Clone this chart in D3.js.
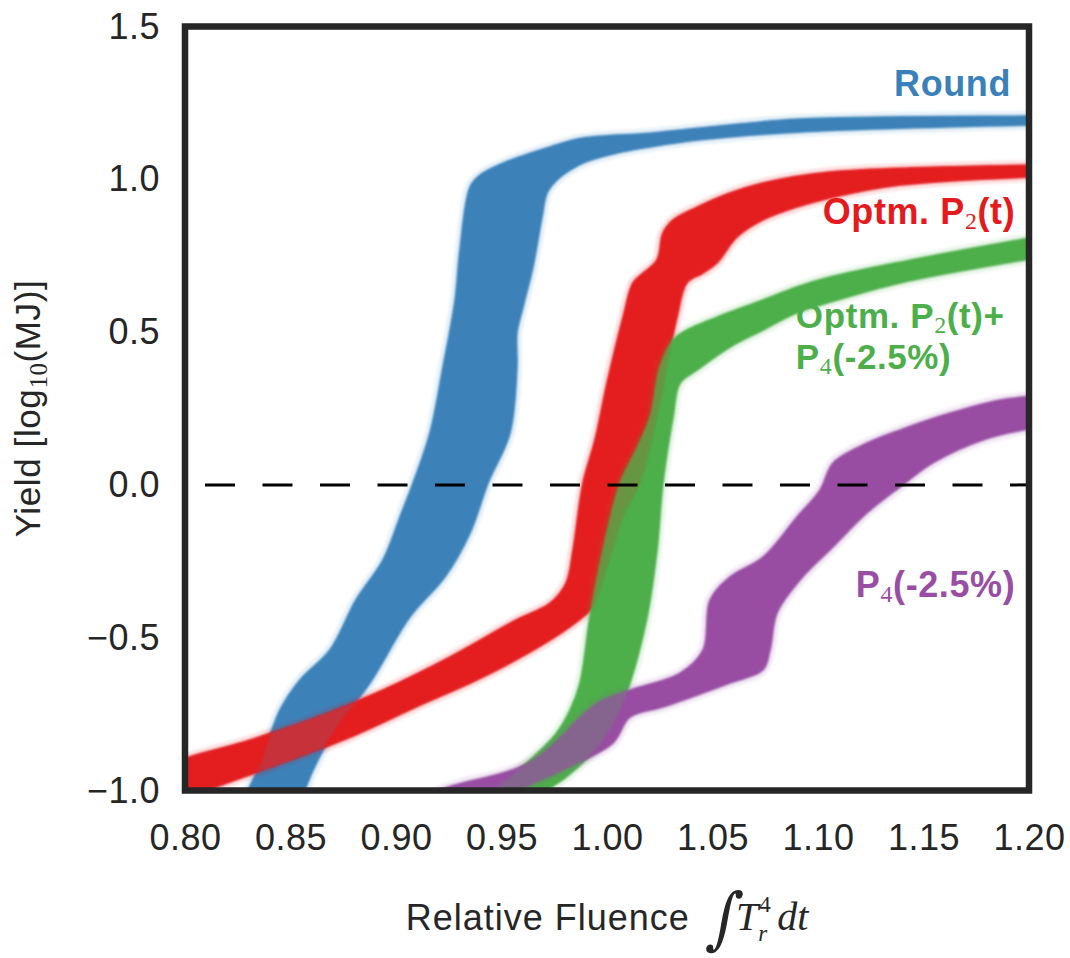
<!DOCTYPE html>
<html>
<head>
<meta charset="utf-8">
<script src="https://cdn.jsdelivr.net/npm/d3@7"></script>
<style>
  body { margin: 0; background: #fff; }
  svg { display: block; }
</style>
</head>
<body>
<svg id="chart" width="1070" height="958"></svg>
<script>
// ---- axis ticks ----
const xTicks = [0.80, 0.85, 0.90, 0.95, 1.00, 1.05, 1.10, 1.15, 1.20];
const yTicks = [-1.0, -0.5, 0.0, 0.5, 1.0, 1.5];

// ---- ensemble envelopes: [relative fluence, log10 yield] ----
// "upper" runs along the upper/left edge of each bundle of runs,
// "lower" returns along the lower/right edge.
const roundUpper = [
  [0.8284, -1.064], [0.8365, -0.900], [0.8450, -0.737], [0.8545, -0.638],
  [0.8687, -0.540], [0.8810, -0.377], [0.8938, -0.246], [0.9019, -0.105],
  [0.9081, 0.006], [0.9161, 0.170], [0.9223, 0.386], [0.9280, 0.605],
  [0.9303, 0.769], [0.9351, 0.975], [0.9398, 1.014], [0.9507, 1.053],
  [0.9730, 1.106], [0.9886, 1.135], [1.0204, 1.151], [1.0441, 1.168],
  [1.0915, 1.197], [1.2028, 1.207], [1.2150, 1.208]
];
const roundLower = [
  [1.2150, 1.179], [1.2028, 1.178], [1.0915, 1.155], [1.0441, 1.129],
  [1.0204, 1.106], [1.0047, 1.086], [0.9886, 1.053], [0.9763, 0.998],
  [0.9716, 0.955], [0.9692, 0.877], [0.9649, 0.713], [0.9602, 0.582],
  [0.9573, 0.497], [0.9573, 0.386], [0.9540, 0.170], [0.9436, 0.006],
  [0.9351, -0.157], [0.9232, -0.301], [0.9066, -0.432], [0.8877, -0.648],
  [0.8701, -0.812], [0.8573, -0.989], [0.8545, -1.064]
];

const p2Upper = [
  [0.7900, -0.937], [0.8308, -0.835], [0.8621, -0.760], [0.8938, -0.671],
  [0.9256, -0.563], [0.9569, -0.442], [0.9730, -0.387], [0.9806, -0.321],
  [0.9839, -0.213], [0.9886, 0.006], [0.9943, 0.147], [1.0000, 0.333],
  [1.0076, 0.549], [1.0123, 0.661], [1.0171, 0.693], [1.0237, 0.736],
  [1.0265, 0.824], [1.0313, 0.867], [1.0427, 0.909], [1.0583, 0.955],
  [1.0739, 0.988], [1.1057, 1.024], [1.2028, 1.047], [1.2150, 1.049]
];
const p2Lower = [
  [1.2150, 1.010], [1.2028, 1.008], [1.1389, 0.981], [1.1057, 0.939],
  [1.0900, 0.909], [1.0739, 0.867], [1.0616, 0.811], [1.0521, 0.726],
  [1.0455, 0.693], [1.0379, 0.661], [1.0332, 0.549], [1.0299, 0.441],
  [1.0237, 0.222], [1.0156, 0.006], [1.0076, -0.105], [1.0000, -0.269],
  [0.9934, -0.400], [0.9886, -0.432], [0.9730, -0.508], [0.9412, -0.629],
  [0.9095, -0.727], [0.8782, -0.826], [0.8464, -0.910], [0.8147, -0.989],
  [0.7880, -1.060]
];

const p2p4Upper = [
  [0.9398, -1.064], [0.9469, -0.999], [0.9635, -0.900], [0.9754, -0.818],
  [0.9825, -0.737], [0.9872, -0.648], [0.9919, -0.432], [0.9981, -0.213],
  [1.0062, 0.006], [1.0137, 0.114], [1.0204, 0.222], [1.0251, 0.386],
  [1.0313, 0.474], [1.0379, 0.507], [1.0521, 0.549], [1.0739, 0.605],
  [1.0900, 0.648], [1.1057, 0.680], [1.1389, 0.729], [1.2028, 0.811],
  [1.2150, 0.825]
];
const p2p4Lower = [
  [1.2150, 0.755], [1.2028, 0.742], [1.1389, 0.661], [1.1057, 0.598],
  [1.0900, 0.563], [1.0739, 0.507], [1.0583, 0.451], [1.0427, 0.376],
  [1.0346, 0.333], [1.0313, 0.222], [1.0265, 0.006], [1.0237, -0.213],
  [1.0190, -0.432], [1.0109, -0.648], [1.0038, -0.769], [0.9943, -0.867],
  [0.9801, -0.959], [0.9682, -1.015], [0.9635, -1.064]
];

const p4Upper = [
  [0.9114, -1.047], [0.9209, -0.999], [0.9635, -0.907], [0.9953, -0.714],
  [1.0109, -0.671], [1.0346, -0.616], [1.0455, -0.540], [1.0488, -0.377],
  [1.0583, -0.301], [1.0739, -0.236], [1.0900, -0.105], [1.1009, -0.017],
  [1.1071, 0.072], [1.1232, 0.137], [1.1389, 0.180], [1.1626, 0.235],
  [1.1863, 0.278], [1.2028, 0.291], [1.2150, 0.295]
];
const p4Lower = [
  [1.2150, 0.195], [1.2028, 0.186], [1.1782, 0.147], [1.1545, 0.072],
  [1.1389, -0.007], [1.1232, -0.092], [1.1071, -0.203], [1.0915, -0.311],
  [1.0806, -0.419], [1.0773, -0.540], [1.0739, -0.606], [1.0583, -0.648],
  [1.0265, -0.727], [1.0109, -0.760], [1.0028, -0.845], [0.9791, -0.933],
  [0.9588, -0.999], [0.9493, -1.047]
];

const seriesColors = ["#3a81ba", "#e41a1c", "#4daf4a", "#984ea3"];
const bands = [
  { upper: roundUpper, lower: roundLower, color: seriesColors[0] },
  { upper: p2Upper, lower: p2Lower, color: seriesColors[1] },
  { upper: p2p4Upper, lower: p2p4Lower, color: seriesColors[2] },
  { upper: p4Upper, lower: p4Lower, color: seriesColors[3] }
];

// ---- layout ----
const plotLeft = 185, plotRight = 1029, plotTop = 26.5, plotBottom = 790.5;
const sans = "'Liberation Sans', Arial, Helvetica, sans-serif";
const mathFont = "'Liberation Serif', serif";
const ink = "#262626";

const svg = d3.select("#chart");
const x = d3.scaleLinear().domain([0.8, 1.2]).range([plotLeft, plotRight]);
const y = d3.scaleLinear().domain([-1.0, 1.5]).range([plotBottom, plotTop]);

const defs = svg.append("defs");
defs.append("clipPath").attr("id", "plot-clip")
  .append("rect")
  .attr("x", plotLeft).attr("y", plotTop)
  .attr("width", plotRight - plotLeft).attr("height", plotBottom - plotTop);

const soft = defs.append("filter").attr("id", "soft")
  .attr("x", "-5%").attr("y", "-5%").attr("width", "110%").attr("height", "110%");
soft.append("feGaussianBlur").attr("stdDeviation", 0.9);

const envelope = d3.line()
  .x(d => x(d[0]))
  .y(d => y(d[1]))
  .curve(d3.curveCatmullRomClosed.alpha(0.5));

const plot = svg.append("g").attr("clip-path", "url(#plot-clip)");

// each bundle: faint spread of outlying runs, then the dense core
bands.forEach(b => {
  const pts = b.upper.concat(b.lower);
  const g = plot.append("g").attr("filter", "url(#soft)");
  g.append("path")
    .attr("d", envelope(pts))
    .attr("fill", b.color).attr("fill-opacity", 0.12)
    .attr("stroke", b.color).attr("stroke-opacity", 0.12)
    .attr("stroke-width", 10).attr("stroke-linejoin", "round");
  g.append("path")
    .attr("d", envelope(pts))
    .attr("fill", b.color)
    .attr("stroke", b.color).attr("stroke-width", 1.5)
    .attr("stroke-linejoin", "round");
});

// translucent runs mix where bundles cross
bands.slice(0, 3).forEach(b => {
  plot.append("path")
    .attr("d", envelope(b.upper.concat(b.lower)))
    .attr("fill", b.color).attr("fill-opacity", 0.24)
    .attr("filter", "url(#soft)");
});

// ignition threshold (1 MJ)
plot.append("line")
  .attr("x1", x(0.8)).attr("x2", x(1.2))
  .attr("y1", y(0)).attr("y2", y(0))
  .attr("stroke", "#000").attr("stroke-width", 3)
  .attr("stroke-dasharray", "30,27.5").attr("stroke-dashoffset", 37.5);

// frame
svg.append("rect")
  .attr("x", plotLeft).attr("y", plotTop)
  .attr("width", plotRight - plotLeft).attr("height", plotBottom - plotTop)
  .attr("fill", "none").attr("stroke", ink).attr("stroke-width", 6.5);

// ---- axes ----
const xAxis = svg.append("g")
  .attr("transform", `translate(0,${plotBottom})`)
  .call(d3.axisBottom(x).tickValues(xTicks).tickSize(0).tickPadding(34)
    .tickFormat(d3.format(".2f")));
const yAxis = svg.append("g")
  .attr("transform", `translate(${plotLeft},0)`)
  .call(d3.axisLeft(y).tickValues(yTicks).tickSize(0).tickPadding(25)
    .tickFormat(d3.format(".1f")));
[xAxis, yAxis].forEach(a => {
  a.select(".domain").remove();
  a.selectAll("text")
    .attr("fill", ink)
    .style("font-family", sans)
    .style("font-size", "36px")
    .style("letter-spacing", "0.5px");
});

// y label with a math subscript
const yLab = svg.append("text")
  .attr("transform", `translate(40,${(plotTop + plotBottom) / 2}) rotate(-90)`)
  .attr("text-anchor", "middle")
  .attr("fill", ink)
  .style("font-family", sans).style("font-size", "35px").style("letter-spacing", "0.6px");
yLab.append("tspan").text("Yield [log");
yLab.append("tspan").text("10").attr("dy", 7)
  .style("font-family", mathFont).style("font-size", "25px");
yLab.append("tspan").text("(MJ)]").attr("dy", -7);

// x label: words followed by the fluence integral
const xLab = svg.append("g").attr("fill", ink);
const words = xLab.append("text")
  .attr("x", 0).attr("y", 0)
  .style("font-family", sans).style("font-size", "36px").style("letter-spacing", "1px")
  .text("Relative Fluence");
const wEnd = words.node().getComputedTextLength();
xLab.append("text")
  .attr("transform", `translate(${wEnd + 16},11) scale(1.1,1.25) skewX(-10)`)
  .style("font-family", "'DejaVu Serif', serif").style("font-size", "54px")
  .text("\u222B");
const cx = wEnd + 46;
const tT = xLab.append("text").attr("x", cx).attr("y", 0)
  .style("font-family", mathFont).style("font-style", "italic")
  .style("font-size", "40px").text("T");
const tw = tT.node().getComputedTextLength();
xLab.append("text").attr("x", cx + tw + 1).attr("y", -18)
  .style("font-family", mathFont).style("font-size", "23px").text("4");
xLab.append("text").attr("x", cx + tw).attr("y", 11)
  .style("font-family", mathFont).style("font-style", "italic")
  .style("font-size", "23px").text("r");
const dt = xLab.append("text").attr("x", cx + tw + 19).attr("y", 0)
  .style("font-family", mathFont).style("font-style", "italic")
  .style("font-size", "40px").text("dt");
const totalW = cx + tw + 19 + dt.node().getComputedTextLength();
xLab.attr("transform", `translate(${(plotLeft + plotRight) / 2 - totalW / 2},930)`);

// ---- series annotations (one text per line) ----
function annotate(parts, anchor, px, py, color, size) {
  const t = svg.append("text")
    .attr("x", px).attr("y", py)
    .attr("text-anchor", anchor)
    .attr("fill", color)
    .style("font-family", sans).style("font-size", size + "px")
    .style("font-weight", "bold").style("letter-spacing", "0.6px");
  parts.forEach((p, j) => {
    const s = t.append("tspan").text(p.t);
    if (p.sub) {
      s.attr("dy", 5).style("font-family", mathFont)
        .style("font-weight", "normal").style("font-size", "24px");
    } else if (j > 0 && parts[j - 1].sub) {
      s.attr("dy", -5);
    }
  });
}
annotate([{ t: "Round" }], "end", x(1.1915), y(1.273), seriesColors[0], 36);
annotate([{ t: "Optm. P" }, { t: "2", sub: true }, { t: "(t)" }], "end",
  x(1.1935), y(0.854), seriesColors[1], 36);
annotate([{ t: "Optm. P" }, { t: "2", sub: true }, { t: "(t)+" }], "start",
  x(1.0895), y(0.513), seriesColors[2], 35);
annotate([{ t: "P" }, { t: "4", sub: true }, { t: "(-2.5%)" }], "start",
  x(1.0895), y(0.380), seriesColors[2], 35);
annotate([{ t: "P" }, { t: "4", sub: true }, { t: "(-2.5%)" }], "end",
  x(1.1935), y(-0.367), seriesColors[3], 36);
</script>
</body>
</html>
